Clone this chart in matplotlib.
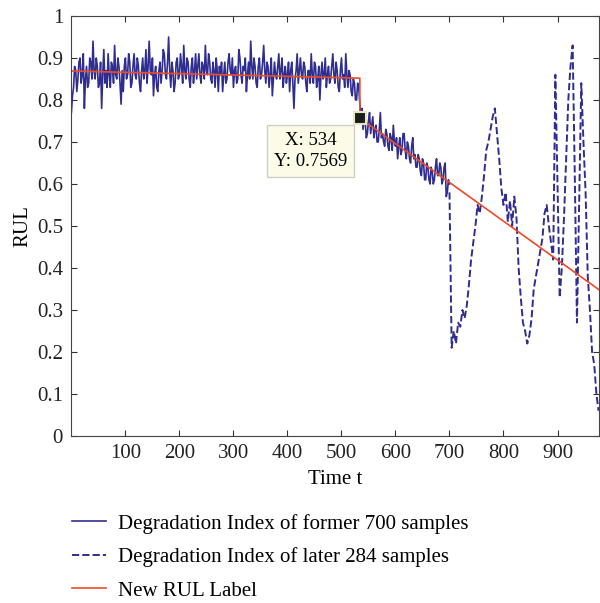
import numpy as np
import matplotlib
matplotlib.use("Agg")
import matplotlib.pyplot as plt

plt.rcParams["font.family"] = ["Liberation Serif", "DejaVu Serif"]
plt.rcParams["font.size"] = 15

BLUE = "#2f2d8f"
RED = "#f04a28"

# degradation index, former 700 samples (read every 2nd sample)
former_x = np.arange(0, 701, 2)
former_y = [
    0.77, 0.81, 0.83, 0.88, 0.87, 0.82, 0.85, 0.89, 0.90, 0.84, 0.86, 0.91, 0.78, 0.85, 0.88, 0.83, 0.84, 0.90, 0.89, 0.85,
    0.94, 0.87, 0.85, 0.90, 0.88, 0.83, 0.84, 0.89, 0.78, 0.86, 0.92, 0.84, 0.87, 0.83, 0.91, 0.86, 0.83, 0.89, 0.88, 0.84,
    0.93, 0.86, 0.85, 0.90, 0.88, 0.84, 0.79, 0.87, 0.82, 0.88, 0.90, 0.85, 0.86, 0.91, 0.89, 0.83, 0.84, 0.88, 0.91, 0.86,
    0.85, 0.90, 0.88, 0.84, 0.82, 0.87, 0.90, 0.85, 0.87, 0.92, 0.84, 0.88, 0.94, 0.87, 0.86, 0.90, 0.81, 0.86, 0.88, 0.83,
    0.82, 0.87, 0.89, 0.84, 0.87, 0.92, 0.91, 0.86, 0.85, 0.89, 0.95, 0.87, 0.83, 0.89, 0.87, 0.82, 0.84, 0.89, 0.90, 0.85,
    0.86, 0.91, 0.88, 0.84, 0.93, 0.87, 0.85, 0.90, 0.89, 0.85, 0.83, 0.88, 0.90, 0.84, 0.87, 0.91, 0.85, 0.88, 0.91, 0.86,
    0.84, 0.89, 0.88, 0.85, 0.93, 0.87, 0.86, 0.91, 0.89, 0.85, 0.84, 0.89, 0.87, 0.83, 0.90, 0.87, 0.82, 0.88, 0.86, 0.89,
    0.82, 0.86, 0.89, 0.84, 0.85, 0.89, 0.91, 0.87, 0.86, 0.90, 0.83, 0.87, 0.88, 0.84, 0.85, 0.92, 0.90, 0.86, 0.84, 0.88,
    0.87, 0.90, 0.82, 0.86, 0.89, 0.85, 0.94, 0.88, 0.85, 0.90, 0.88, 0.84, 0.83, 0.88, 0.90, 0.85, 0.86, 0.89, 0.93, 0.87,
    0.84, 0.89, 0.88, 0.83, 0.86, 0.90, 0.81, 0.85, 0.89, 0.86, 0.85, 0.88, 0.91, 0.85, 0.87, 0.90, 0.83, 0.86, 0.88, 0.84,
    0.86, 0.89, 0.82, 0.87, 0.89, 0.84, 0.78, 0.85, 0.87, 0.91, 0.84, 0.87, 0.90, 0.86, 0.85, 0.89, 0.88, 0.84, 0.82, 0.87,
    0.87, 0.84, 0.91, 0.86, 0.84, 0.89, 0.88, 0.83, 0.85, 0.88, 0.80, 0.86, 0.89, 0.85, 0.86, 0.90, 0.83, 0.86, 0.88, 0.84,
    0.85, 0.88, 0.91, 0.86, 0.84, 0.89, 0.87, 0.83, 0.82, 0.87, 0.90, 0.85, 0.86, 0.83, 0.91, 0.86, 0.83, 0.87, 0.86, 0.82,
    0.81, 0.85, 0.84, 0.80, 0.80, 0.84, 0.83, 0.79, 0.76, 0.78, 0.73, 0.76, 0.75, 0.71, 0.72, 0.75, 0.77, 0.72, 0.74, 0.76,
    0.71, 0.73, 0.74, 0.70, 0.70, 0.73, 0.77, 0.71, 0.72, 0.70, 0.69, 0.73, 0.72, 0.69, 0.68, 0.72, 0.71, 0.68, 0.74, 0.70,
    0.69, 0.71, 0.66, 0.69, 0.71, 0.67, 0.68, 0.72, 0.72, 0.68, 0.66, 0.70, 0.69, 0.66, 0.65, 0.69, 0.71, 0.66, 0.67, 0.64,
    0.64, 0.67, 0.66, 0.63, 0.62, 0.66, 0.65, 0.61, 0.61, 0.65, 0.64, 0.61, 0.60, 0.64, 0.63, 0.60, 0.61, 0.64, 0.66, 0.62,
    0.62, 0.65, 0.64, 0.60, 0.61, 0.64, 0.65, 0.57, 0.58, 0.61, 0.60,
]

# degradation index, later 284 samples (read every 4th sample)
later_x = np.arange(700, 977, 4)
later_y = [
    0.58, 0.21, 0.25, 0.22, 0.27, 0.26, 0.30, 0.28, 0.31, 0.36,
    0.42, 0.46, 0.50, 0.55, 0.53, 0.57, 0.62, 0.68, 0.70, 0.73,
    0.76, 0.78, 0.72, 0.66, 0.59, 0.55, 0.58, 0.51, 0.56, 0.50,
    0.57, 0.52, 0.40, 0.33, 0.27, 0.25, 0.22, 0.24, 0.28, 0.35,
    0.38, 0.41, 0.44, 0.47, 0.53, 0.55, 0.50, 0.46, 0.42, 0.86,
    0.60, 0.33, 0.40, 0.52, 0.66, 0.80, 0.88, 0.93, 0.62, 0.27,
    0.55, 0.84, 0.70, 0.58, 0.38, 0.30, 0.20, 0.17, 0.10, 0.06,
]

# new RUL label breakpoints
label_x = [0, 534, 534, 977]
label_y = [0.869, 0.852, 0.7569, 0.348]

tip_x, tip_y = 534, 0.7569

fig = plt.figure(figsize=(6, 6.03), dpi=100)
ax = fig.add_axes([0.119, 0.277, 0.8795, 0.6965])

l1, = ax.plot(former_x, former_y, color=BLUE, lw=1.2)
l2, = ax.plot(later_x, later_y, color=BLUE, lw=1.4, ls="--")
l3, = ax.plot(label_x, label_y, color=RED, lw=1.2)
ax.plot([tip_x], [tip_y], marker="s", ms=9, mfc="#1c1c1c", mec="#e9e6c4", mew=1.5)

ax.text(443, 0.678, f"X: {tip_x}\nY: {tip_y}", ha="center", va="center",
        fontsize=13.5, linespacing=1.3,
        bbox=dict(boxstyle="square,pad=0.38", fc="#fbfbe8", ec="#cfcfc4", lw=1))

ax.set_xlim(0, 977)
ax.set_ylim(0, 1)
ax.set_xticks(range(100, 901, 100))
ax.set_yticks(np.arange(0, 1.01, 0.1))
ax.set_yticklabels(["0", "0.1", "0.2", "0.3", "0.4", "0.5", "0.6", "0.7", "0.8", "0.9", "1"])
ax.tick_params(direction="in", length=4, top=True, right=True, colors="#333333",
               labelcolor="#222222", pad=6)
for s in ax.spines.values():
    s.set_color("#444444")
ax.set_xlabel("Time t", labelpad=5)
ax.set_ylabel("RUL", labelpad=3)

fig.legend([l1, l2, l3],
           ["Degradation Index of former 700 samples",
            "Degradation Index of later 284 samples",
            "New RUL Label"],
           loc="upper left", bbox_to_anchor=(0.12, 0.148), frameon=False,
           borderpad=0, borderaxespad=0, handlelength=1.63, handletextpad=0.58,
           labelspacing=0.66)

fig.savefig("out.png", dpi=100)
